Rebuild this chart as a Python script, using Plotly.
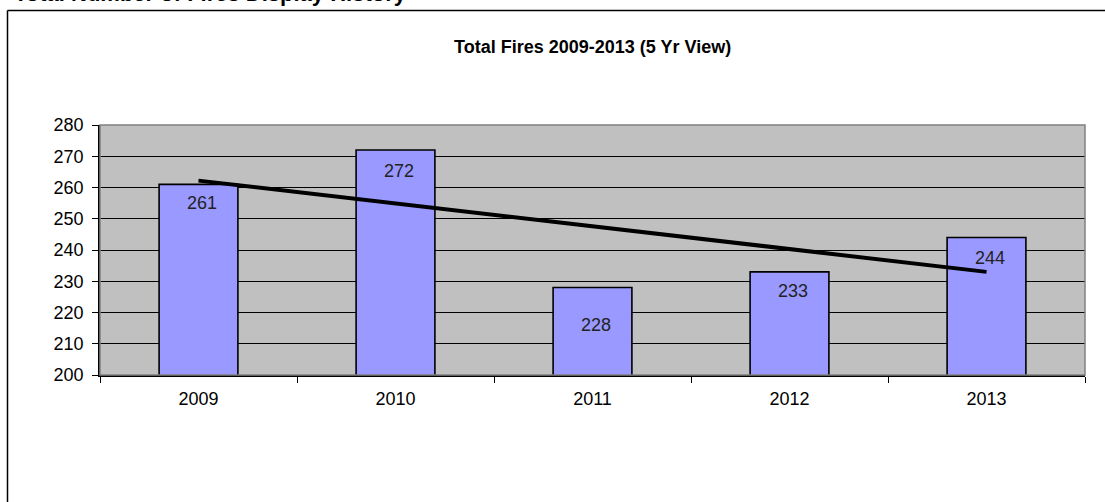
import numpy as np
import plotly.graph_objects as go

# Yearly fire totals
years = ["2009", "2010", "2011", "2012", "2013"]
fires = [261, 272, 228, 233, 244]
y_ticks = [200, 210, 220, 230, 240, 250, 260, 270, 280]

chart_title = "Total Fires 2009-2013 (5 Yr View)"
page_heading = "Total Number of Fires Display History"

# how far each value label sits below its bar top (px)
label_drop = [19, 21, 37, 19, 20]

# linear trendline fitted to the yearly totals
idx = np.arange(len(fires))
slope, intercept = np.polyfit(idx, fires, 1)
trend = slope * idx + intercept

W, H = 1105, 502
ML, MR, MT, MB = 100, 20, 125, 127
PW, PH = W - ML - MR, H - MT - MB

FONT = "Liberation Sans, Arial, sans-serif"

fig = go.Figure()
fig.add_trace(go.Bar(
    x=years, y=fires, width=0.4,
    marker=dict(color="#9999FF", line=dict(color="black", width=1.6)),
    hoverinfo="x+y", showlegend=False,
))
fig.add_trace(go.Scatter(
    x=years, y=trend, mode="lines",
    line=dict(color="black", width=4),
    hoverinfo="skip", showlegend=False,
))

annotations = []
for i, (v, d) in enumerate(zip(fires, label_drop)):
    annotations.append(dict(
        x=i, y=v, xref="x", yref="y", text=str(v), showarrow=False,
        xanchor="center", yanchor="middle", xshift=3, yshift=-d,
        font=dict(family=FONT, size=18, color="#222222"),
    ))

# chart title
annotations.append(dict(
    x=0.5, y=1, xref="paper", yref="paper", xanchor="center", yanchor="middle",
    yshift=MT - 47, text="<b>%s</b>" % chart_title, showarrow=False,
    font=dict(family=FONT, size=18, color="black"),
))
# page heading running off the top edge
annotations.append(dict(
    x=0, y=1, xref="paper", yref="paper", xanchor="left", yanchor="bottom",
    xshift=12 - ML, yshift=MT - 8, text="<b>%s</b>" % page_heading, showarrow=False,
    font=dict(family=FONT, size=22, color="black"),
))

def px_x(p):
    return (p - ML) / PW

def px_y(p):
    return 1 + (MT - p) / PH

frame_line = dict(color="black", width=1.5)
shapes = [
    # outer frame: top and left edges
    dict(type="line", xref="paper", yref="paper", layer="below",
         x0=px_x(7.5), x1=px_x(W + 10), y0=px_y(10.5), y1=px_y(10.5), line=frame_line),
    dict(type="line", xref="paper", yref="paper", layer="below",
         x0=px_x(7.5), x1=px_x(7.5), y0=px_y(10.5), y1=px_y(H + 10), line=frame_line),
    # plot area border
    dict(type="rect", xref="paper", yref="paper", layer="above",
         x0=0, x1=1, y0=0, y1=1,
         line=dict(color="#808080", width=1.5), fillcolor="rgba(0,0,0,0)"),
]

fig.update_layout(
    width=W, height=H,
    margin=dict(l=ML, r=MR, t=MT, b=MB, pad=0),
    paper_bgcolor="white",
    plot_bgcolor="#C0C0C0",
    bargap=0.6,
    annotations=annotations,
    shapes=shapes,
    font=dict(family=FONT, size=18, color="black"),
    xaxis=dict(
        type="category", range=[-0.5, 4.5],
        showline=True, linecolor="black", linewidth=1.5,
        ticks="outside", tickson="boundaries", ticklen=6, tickcolor="black", tickwidth=1,
        showgrid=False, zeroline=False,
        tickfont=dict(family=FONT, size=18, color="black"),
        ticklabelstandoff=7,
    ),
    yaxis=dict(
        range=[200, 280], tickvals=y_ticks,
        showline=True, linecolor="black", linewidth=1.5,
        ticks="outside", ticklen=6, tickcolor="black", tickwidth=1,
        showgrid=True, gridcolor="black", gridwidth=1,
        zeroline=False,
        tickfont=dict(family=FONT, size=18, color="black"),
        ticklabelstandoff=5,
    ),
)

fig.write_html("out.html")
